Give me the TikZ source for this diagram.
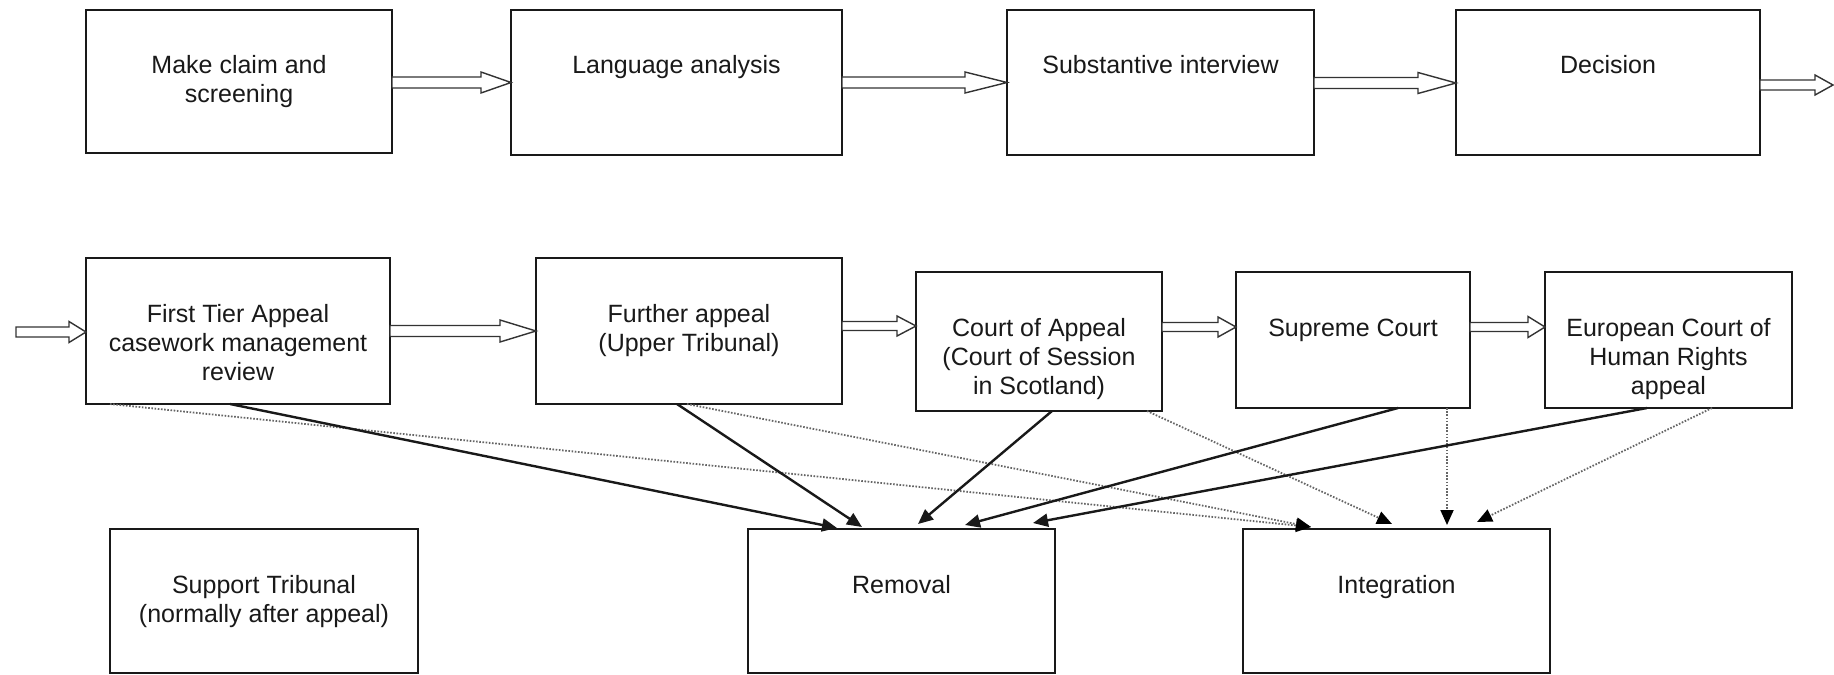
\documentclass[tikz,border=0pt]{standalone}
\usepackage{fontspec}
\setmainfont{Liberation Sans}
\usetikzlibrary{arrows.meta,calc}
\newcommand\lines[1]{\vtop{\baselineskip=14.5pt\lineskiplimit=-20pt\halign{\hfil##\hfil\cr#1\crcr}}}
\newcommand\bx[6]{%
  \node[box, anchor=north west, minimum width={(#4-#2)*0.5pt}, minimum height={(#5-#3)*0.5pt}] (#1) at (#2,#3) {};
  \node[txt] (#1t) at ({(#2+#4)/2},{#3+64}) {\lines{#6}};
}
\newcommand\blk[6]{%
  \draw[blockarrow] let \p1=(#1), \p2=(#2) in
   (\x1,{-0.5pt*(#3-#5)}) -- ({\x2-0.5pt*#4},{-0.5pt*(#3-#5)}) -- ({\x2-0.5pt*#4},{-0.5pt*(#3-#6)}) -- (\x2,{-0.5pt*#3}) -- ({\x2-0.5pt*#4},{-0.5pt*(#3+#6)}) -- ({\x2-0.5pt*#4},{-0.5pt*(#3+#5)}) -- (\x1,{-0.5pt*(#3+#5)}) -- cycle;
}
\begin{document}
\begin{tikzpicture}[x=0.5pt,y=-0.5pt,
  box/.style={draw=black!90, line width=1pt, inner sep=0pt, outer sep=0pt},
  txt/.style={inner sep=0pt, outer sep=0pt, anchor=base, text=black!90, font=\fontsize{12.5pt}{14.5pt}\selectfont},
  blockarrow/.style={draw=black!80, fill=white, line width=0.7pt, line join=miter},
  solidarr/.style={draw=black!90, line width=1.2pt, -{Triangle[length=7.5pt,width=6.5pt]}},
  dotarr/.style={draw=black!60, line width=0.9pt, dash pattern=on 0.8pt off 0.8pt, -{Triangle[length=7.5pt,width=6.5pt,fill=black,color=black]}}]
\fill[white] (0,0) rectangle (1834,674);
\useasboundingbox (0,0) rectangle (1834,674);

% top row
\bx{b1}{86}{10}{392}{153}{Make claim and\cr screening}
\bx{b2}{511}{10}{842}{155}{Language analysis}
\bx{b3}{1007}{10}{1314}{155}{Substantive interview}
\bx{b4}{1456}{10}{1760}{155}{Decision}

% second row
\bx{ft}{86}{258}{390}{404}{First Tier Appeal\cr casework management\cr review}
\bx{fa}{536}{258}{842}{404}{Further appeal\cr (Upper Tribunal)}
\bx{ca}{916}{272}{1162}{411}{Court of Appeal\cr (Court of Session\cr in Scotland)}
\bx{sc}{1236}{272}{1470}{408}{Supreme Court}
\bx{ec}{1545}{272}{1792}{408}{European Court of\cr Human Rights\cr appeal}

% bottom row
\bx{st}{110}{529}{418}{673}{Support Tribunal\cr (normally after appeal)}
\bx{rem}{748}{529}{1055}{673}{Removal}
\bx{intg}{1243}{529}{1550}{673}{Integration}

\coordinate (out) at (1833,85);
\coordinate (in) at (16,332);

% block arrows
\blk{b1.east}{b2.west}{82.5}{30}{5.5}{10.5}
\blk{b2.east}{b3.west}{82.5}{42}{5.5}{10.5}
\blk{b3.east}{b4.west}{83}{38}{5.5}{10.5}
\blk{b4.east}{out}{85}{18}{5}{10}
\blk{in}{ft.west}{332}{17}{5}{10.5}
\blk{ft.east}{fa.west}{331}{36}{5.5}{11}
\blk{fa.east}{ca.west}{326}{19}{4.5}{10}
\blk{ca.east}{sc.west}{327}{18}{4.5}{10}
\blk{sc.east}{ec.west}{327}{17}{4.5}{10.5}

% dotted connectors to Integration
\draw[dotarr] ($(ft.south west)+(24,0)$) -- ($(intg.north west)+(68,-2)$);
\draw[dotarr] ($(fa.south west)+(151,0)$) -- ($(intg.north west)+(68,-2)$);
\draw[dotarr] ($(ca.south west)+(231,0)$) -- ($(intg.north west)+(149,-5)$);
\draw[dotarr] ($(sc.south west)+(211,0)$) -- ($(intg.north west)+(204,-4)$);
\draw[dotarr] ($(ec.south west)+(167,0)$) -- ($(intg.north west)+(234,-7)$);

% solid connectors to Removal
\draw[solidarr] ($(ft.south west)+(144,0)$) -- ($(rem.north west)+(89,-1)$);
\draw[solidarr] ($(fa.south west)+(141,0)$) -- ($(rem.north west)+(114,-2)$);
\draw[solidarr] ($(ca.south west)+(136,0)$) -- ($(rem.north west)+(170,-5)$);
\draw[solidarr] ($(sc.south west)+(162,0)$) -- ($(rem.north west)+(217,-4)$);
\draw[solidarr] ($(ec.south west)+(102,0)$) -- ($(rem.north west)+(285,-6)$);
\end{tikzpicture}
\end{document}
